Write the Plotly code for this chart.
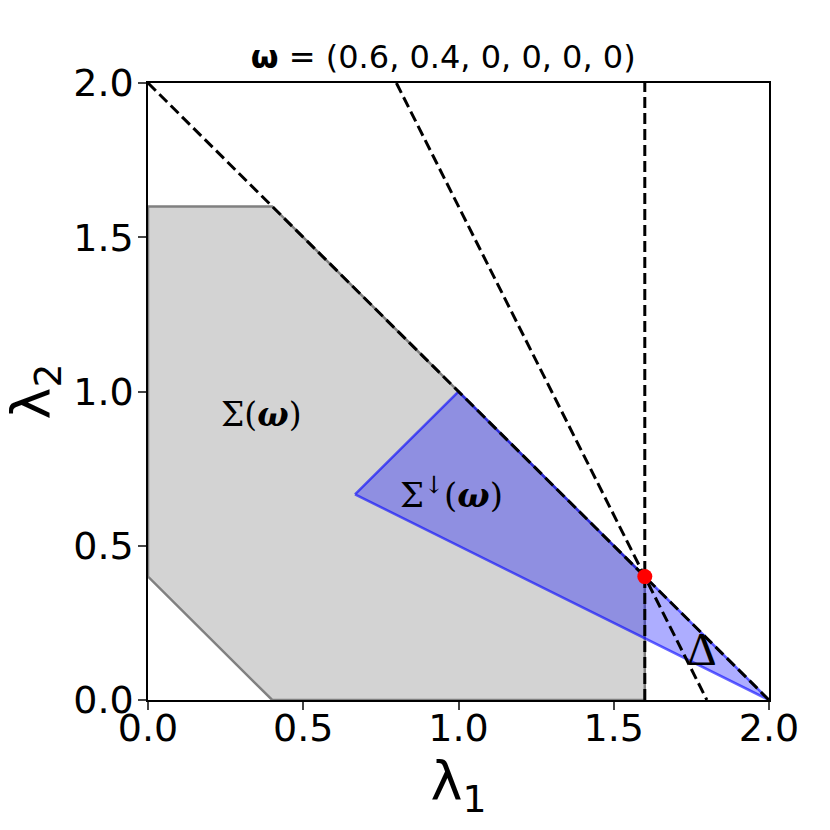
import plotly.graph_objects as go

# Data
sigma_x = [0, 0.4, 1.6, 1.6, 0.4, 0, 0]
sigma_y = [0.4, 0, 0, 0.4, 1.6, 1.6, 0.4]
sigma_down_x = [2/3, 1.0, 2.0, 2/3]
sigma_down_y = [2/3, 1.0, 0.0, 2/3]
line_a_x = [0, 2]
line_a_y = [2, 0]
line_b_x = [0.8, 1.8]
line_b_y = [2, 0]
line_c_x = [1.6, 1.6]
line_c_y = [0, 2]
point_x = [1.6]
point_y = [0.4]
tick_vals = [0, 0.5, 1.0, 1.5, 2.0]
tick_text = ["0.0", "0.5", "1.0", "1.5", "2.0"]

fig = go.Figure()
fig.add_trace(go.Scatter(x=sigma_x, y=sigma_y, mode="lines", fill="toself",
                         fillcolor="#d3d3d3", line=dict(color="#808080", width=2.5),
                         hoverinfo="skip", showlegend=False))
fig.add_trace(go.Scatter(x=sigma_down_x, y=sigma_down_y, mode="lines", fill="toself",
                         fillcolor="rgba(0,0,255,0.32)", line=dict(color="rgba(0,0,255,0.6)", width=2.5),
                         hoverinfo="skip", showlegend=False))
for lx, ly in [(line_a_x, line_a_y), (line_b_x, line_b_y), (line_c_x, line_c_y)]:
    fig.add_trace(go.Scatter(x=lx, y=ly, mode="lines",
                             line=dict(color="black", width=3, dash="11px,5px"),
                             hoverinfo="skip", showlegend=False))
fig.add_trace(go.Scatter(x=point_x, y=point_y, mode="markers",
                         marker=dict(color="red", size=15, line=dict(width=0)),
                         showlegend=False))

fig.add_annotation(x=0.367, y=0.924, text="Σ(<b><i>ω</i></b>)", showarrow=False,
                   font=dict(family="DejaVu Serif", size=33, color="black"))
fig.add_annotation(x=0.978, y=0.671, text="Σ<sup>↓</sup>(<b><i>ω</i></b>)", showarrow=False,
                   font=dict(family="DejaVu Serif", size=34, color="black"))
fig.add_annotation(x=1.784, y=0.165, text="Δ", showarrow=False,
                   font=dict(family="Liberation Serif", size=46, color="black"))

fig.update_layout(
    width=830, height=830,
    margin=dict(l=148, r=61, t=83, b=130),
    paper_bgcolor="white", plot_bgcolor="white",
    font=dict(family="DejaVu Sans", color="black"),
    title=dict(text="<b>ω</b> = (0.6, 0.4, 0, 0, 0, 0)", x=0.534, xanchor="center",
               y=0.931, yanchor="middle", font=dict(size=32, family="DejaVu Sans")),
    xaxis=dict(range=[0, 2], tickvals=tick_vals, ticktext=tick_text,
               showgrid=False, zeroline=False, showline=True, linecolor="black",
               linewidth=1.5, mirror=True, ticks="outside", ticklen=8, tickwidth=1.5,
               ticklabelstandoff=-14,
               tickfont=dict(size=38), title=dict(text="λ<sub>1</sub>", font=dict(size=54), standoff=0)),
    yaxis=dict(range=[0, 2], tickvals=tick_vals, ticktext=tick_text,
               showgrid=False, zeroline=False, showline=True, linecolor="black",
               linewidth=1.5, mirror=True, ticks="outside", ticklen=8, tickwidth=1.5,
               ticklabelstandoff=-3,
               tickfont=dict(size=38), title=dict(text="λ<sub>2</sub>", font=dict(size=54), standoff=8)),
)

fig.write_html("out.html", config={"displayModeBar": False},
               post_script="document.body.style.margin='0px';")
